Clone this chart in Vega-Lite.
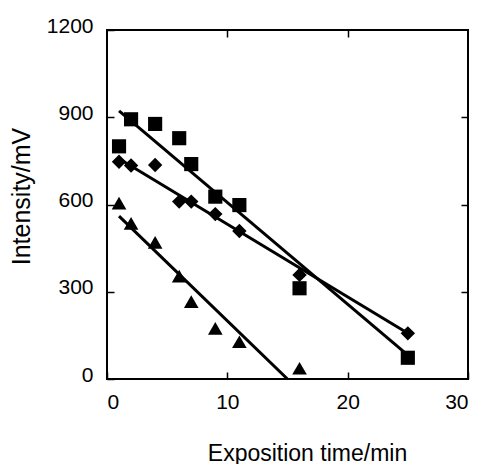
{
  "$schema": "https://vega.github.io/schema/vega-lite/v6.json",
  "autosize": {"type": "none"},
  "padding": {"left": 107, "top": 30, "right": 16, "bottom": 85},
  "width": 361,
  "height": 349,
  "background": "white",
  "config": {
    "view": {"stroke": "black", "strokeWidth": 2},
    "axis": {"domain": false, "grid": false, "labelFont": "Liberation Sans, Arial", "labelFontSize": 21, "labelColor": "black", "titleFont": "Liberation Sans, Arial", "titleFontSize": 23, "titleFontWeight": "normal", "titleColor": "black", "tickColor": "black", "tickWidth": 1.5, "tickSize": -7}
  },
  "datasets": {
    "points": [
      {"t": 1, "v": 800, "s": "square"},
      {"t": 2, "v": 893, "s": "square"},
      {"t": 4, "v": 877, "s": "square"},
      {"t": 6, "v": 828, "s": "square"},
      {"t": 7, "v": 739, "s": "square"},
      {"t": 9, "v": 627, "s": "square"},
      {"t": 11, "v": 598, "s": "square"},
      {"t": 16, "v": 312, "s": "square"},
      {"t": 25, "v": 73, "s": "square"},
      {"t": 1, "v": 747, "s": "diamond"},
      {"t": 2, "v": 734, "s": "diamond"},
      {"t": 4, "v": 736, "s": "diamond"},
      {"t": 6, "v": 610, "s": "diamond"},
      {"t": 7, "v": 610, "s": "diamond"},
      {"t": 9, "v": 567, "s": "diamond"},
      {"t": 11, "v": 509, "s": "diamond"},
      {"t": 16, "v": 358, "s": "diamond"},
      {"t": 25, "v": 157, "s": "diamond"},
      {"t": 1, "v": 605, "s": "triangle"},
      {"t": 2, "v": 535, "s": "triangle"},
      {"t": 4, "v": 470, "s": "triangle"},
      {"t": 6, "v": 354, "s": "triangle"},
      {"t": 7, "v": 266, "s": "triangle"},
      {"t": 9, "v": 174, "s": "triangle"},
      {"t": 11, "v": 128, "s": "triangle"},
      {"t": 16, "v": 37, "s": "triangle"}
    ],
    "fits": [
      {"t": 1, "v": 922, "s": "square"},
      {"t": 25, "v": 82, "s": "square"},
      {"t": 1, "v": 757, "s": "diamond"},
      {"t": 25, "v": 157, "s": "diamond"},
      {"t": 1, "v": 560, "s": "triangle"},
      {"t": 15, "v": 0, "s": "triangle"}
    ]
  },
  "resolve": {"axis": {"x": "independent", "y": "independent"}},
  "layer": [
    {
      "data": {"name": "fits"},
      "mark": {"type": "line", "color": "black", "strokeWidth": 3, "clip": true},
      "encoding": {
        "x": {"field": "t", "type": "quantitative", "scale": {"domain": [0, 30], "nice": false}, "axis": {"orient": "top", "values": [10, 20], "labels": false, "title": null}},
        "y": {"field": "v", "type": "quantitative", "scale": {"domain": [0, 1200], "nice": false}, "axis": {"orient": "right", "values": [300, 600, 900], "labels": false, "title": null}},
        "detail": {"field": "s"}
      }
    },
    {
      "data": {"name": "points"},
      "mark": {"type": "point", "filled": true, "color": "black", "opacity": 1},
      "encoding": {
        "x": {"field": "t", "type": "quantitative", "scale": {"domain": [0, 30], "nice": false}, "axis": {"orient": "bottom", "values": [0, 10, 20, 30], "format": "d", "title": "Exposition time/min", "labelPadding": 19, "titleX": 200, "titleY": 81, "titleBaseline": "alphabetic", "titleAnchor": "middle"}},
        "y": {"field": "v", "type": "quantitative", "scale": {"domain": [0, 1200], "nice": false}, "axis": {"orient": "left", "values": [0, 300, 600, 900, 1200], "format": "d", "title": "Intensity/mV", "titleFontSize": 25, "labelPadding": 21, "labelOffset": -4, "titleX": -78, "titleY": 166, "titleBaseline": "alphabetic", "titleAngle": -90}},
        "shape": {"field": "s", "type": "nominal", "scale": {"domain": ["square", "diamond", "triangle"], "range": ["square", "diamond", "triangle-up"]}, "legend": null},
        "size": {"field": "s", "type": "nominal", "scale": {"domain": ["square", "diamond", "triangle"], "range": [200, 215, 340]}, "legend": null}
      }
    }
  ]
}
